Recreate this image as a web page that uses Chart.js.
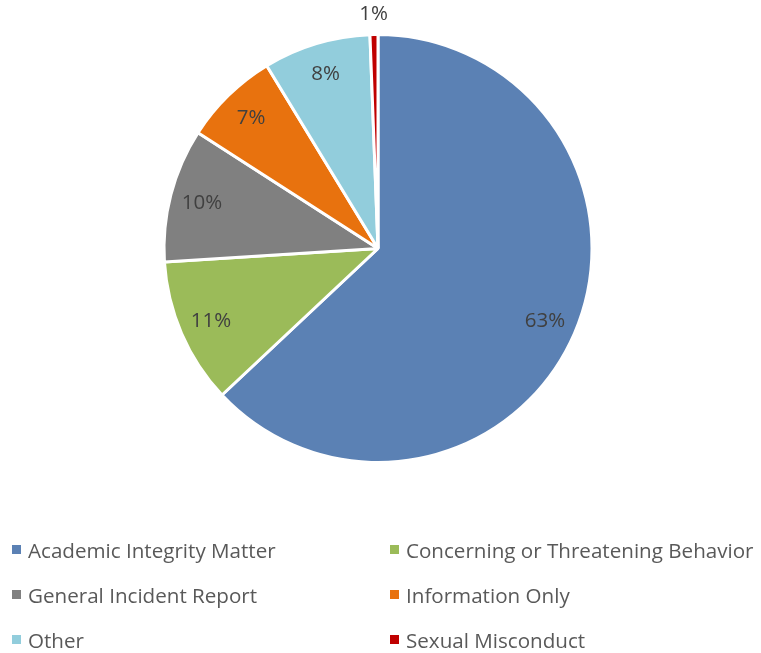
<!DOCTYPE html>
<html>
<head>
<meta charset="utf-8">
<script src="https://cdn.jsdelivr.net/npm/chart.js@4.4.1/dist/chart.umd.min.js"></script>
<style>
  body { margin: 0; background: #fff; }
  #wrap { position: relative; width: 761px; height: 653px; }
  #legend {
    position: absolute; left: 12px; top: 527px; width: 749px;
    display: grid; grid-template-columns: 378px 371px; row-gap: 0;
    font-family: "Open Sans", sans-serif; font-size: 20.6px; color: #595959;
    white-space: nowrap;
  }
  .item { height: 45px; display: flex; align-items: center; }
  .box { width: 9px; height: 9px; margin-right: 7px; flex: none; }
</style>
</head>
<body>
<div id="wrap">
  <canvas id="pieChart" width="761" height="653"></canvas>
  <div id="legend"></div>
</div>
<script>
// tipos de incidentes
const categorias = ["Academic Integrity Matter", "Concerning or Threatening Behavior", "General Incident Report", "Information Only", "Other", "Sexual Misconduct"];
const porcentajes = [63.0, 11.0, 10.1, 7.2, 8.1, 0.6];
const colores = ['#5B81B4', '#9BBB59', '#808080', '#E8720E', '#92CDDC', '#C00000'];

// etiquetas dentro de cada rebanada
const etiquetas = {
  id: 'etiquetas',
  afterDatasetsDraw(chart) {
    const c = chart.ctx;
    const meta = chart.getDatasetMeta(0);
    c.save();
    c.font = '20.5px "Open Sans", sans-serif';
    c.fillStyle = '#404040';
    c.textAlign = 'center';
    c.textBaseline = 'middle';
    meta.data.forEach((arc, i) => {
      const p = arc.getProps(['x', 'y', 'startAngle', 'endAngle', 'outerRadius']);
      const mid = (p.startAngle + p.endAngle) / 2;
      const r = porcentajes[i] < 2 ? p.outerRadius + 20 : p.outerRadius * 0.85;
      c.fillText(Math.round(porcentajes[i]) + '%', p.x + Math.cos(mid) * r, p.y + Math.sin(mid) * r);
    });
    c.restore();
  }
};

const ctx = document.getElementById('pieChart');
const grafico = new Chart(ctx, {
  type: 'pie',
  data: {
    labels: categorias,
    datasets: [{
      data: porcentajes,
      backgroundColor: colores,
      borderColor: '#ffffff',
      borderWidth: 3
    }]
  },
  options: {
    responsive: false,
    animation: false,
    layout: { padding: { top: 33, bottom: 189, left: 0, right: 5 } },
    plugins: {
      legend: { display: false },
      tooltip: { enabled: false }
    }
  },
  plugins: [etiquetas]
});

// leyenda en dos columnas
const leyenda = document.getElementById('legend');
categorias.forEach((nombre, i) => {
  const div = document.createElement('div');
  div.className = 'item';
  div.innerHTML = '<span class="box" style="background:' + colores[i] + '"></span>' + nombre;
  leyenda.appendChild(div);
});
</script>
</body>
</html>
